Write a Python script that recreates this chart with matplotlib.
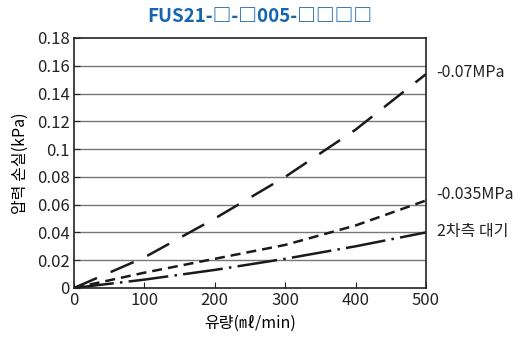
import matplotlib
matplotlib.use('Agg')
import matplotlib.pyplot as plt

plt.rcParams['font.family'] = ['Noto Sans CJK KR', 'DejaVu Sans']

flow = [0, 100, 200, 300, 400, 500]
loss_007 = [0, 0.022, 0.050, 0.080, 0.114, 0.154]
loss_0035 = [0, 0.011, 0.021, 0.031, 0.045, 0.063]
loss_atm = [0, 0.006, 0.013, 0.021, 0.030, 0.040]
labels = ['-0.07MPa', '-0.035MPa', '2차측 대기']
yticks = [0, 0.02, 0.04, 0.06, 0.08, 0.1, 0.12, 0.14, 0.16, 0.18]
ytick_labels = ['0', '0.02', '0.04', '0.06', '0.08', '0.1', '0.12', '0.14', '0.16', '0.18']
xticks = [0, 100, 200, 300, 400, 500]

fig = plt.figure(figsize=(5.2, 3.42), dpi=100)
ax = fig.add_axes([0.1423, 0.158, 0.677, 0.731])

lw = 1.8
ax.plot(flow, loss_007, color='#1a1a1a', lw=lw, linestyle=(0, (10, 6)))
ax.plot(flow, loss_0035, color='#1a1a1a', lw=lw, linestyle=(0, (4, 2.4)))
ax.plot(flow, loss_atm, color='#1a1a1a', lw=lw, linestyle=(0, (16, 2.5, 1, 2.5)))

for y in yticks[1:-1]:
    ax.axhline(y, color='#777777', lw=1.0, zorder=0)

ax.set_xlim(0, 500)
ax.set_ylim(0, 0.18)
ax.set_xticks(xticks)
ax.set_yticks(yticks)
ax.set_yticklabels(ytick_labels)
ax.tick_params(direction='in', labelsize=12, colors='#222222', length=4, pad=3)
for s in ax.spines.values():
    s.set_color('#222222')
    s.set_linewidth(1.2)

ax.set_xlabel('유량(㎖/min)', fontsize=11.5, labelpad=4)
ax.set_ylabel('압력 손실(kPa)', fontsize=11.5, labelpad=6)

label_y = [0.155, 0.067, 0.041]
for lab, y in zip(labels, label_y):
    ax.text(1.03, y / 0.18, lab, transform=ax.transAxes, fontsize=11.5,
            va='center', ha='left', color='#222222')

fig.text(0.5, 0.953, 'FUS21-□-□005-□□□□', fontsize=13.5, fontweight='bold',
         color='#1565b0', ha='center', va='center')

fig.savefig('out.png', dpi=100)
